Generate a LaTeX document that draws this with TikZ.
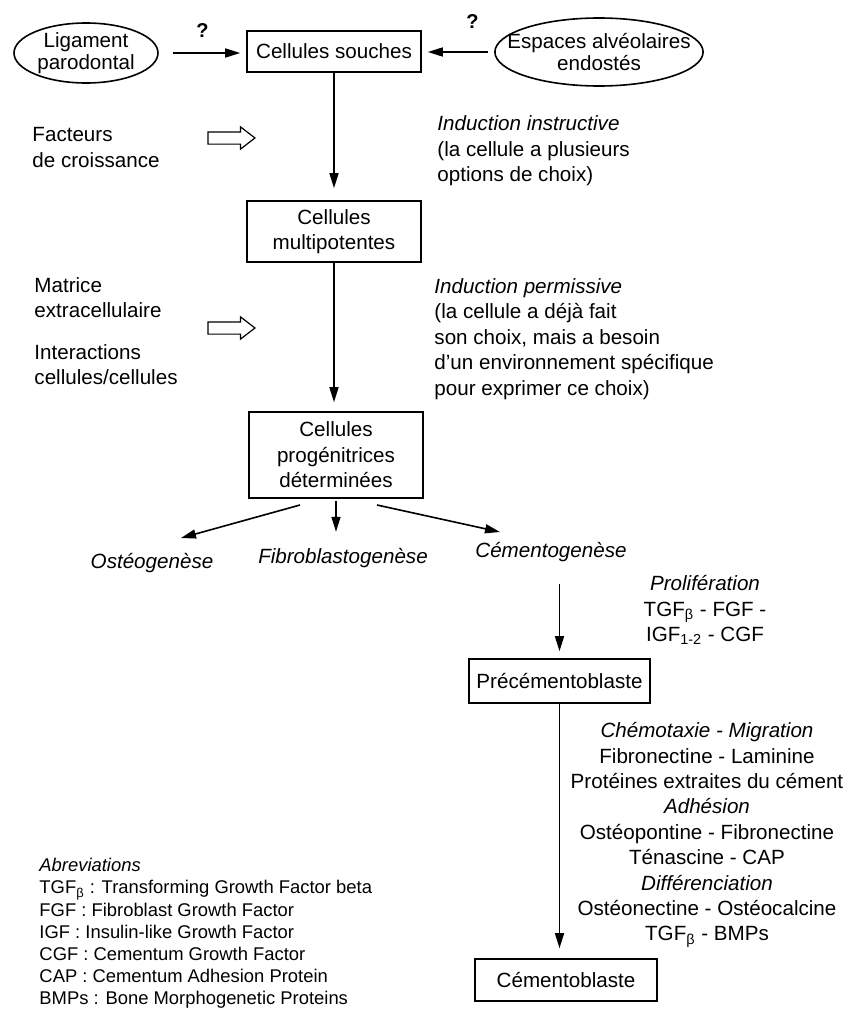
\documentclass[tikz,border=0pt]{standalone}
\usepackage{fontspec}
\setmainfont{Liberation Sans}
\usetikzlibrary{arrows.meta,shapes.geometric,shapes.arrows}

\begin{document}
\begin{tikzpicture}
[
x=0.5pt,y=-0.5pt,
line width=0.8pt,
font=\fontsize{10.3}{12.7}\selectfont,
cellbox/.style={draw,rectangle,align=center,minimum width=87pt,inner sep=0pt},
origin/.style={draw,ellipse,align=center,inner sep=0pt,font=\fontsize{10.3}{11}\selectfont},
flow/.style={-{Triangle[length=7.5pt,width=4.5pt]}},
push/.style={draw,single arrow,line width=0.6pt,minimum height=23.5pt,inner sep=2.75pt,single arrow head extend=2.5pt,single arrow tip angle=75},
remark/.style={anchor=west,align=left},
fate/.style={font=\fontsize{10.3}{12.7}\selectfont\itshape},
factors/.style={align=center},
abbrev/.style={anchor=west,align=left,font=\fontsize{9.2}{11.1}\selectfont}
]
\useasboundingbox (0,0) rectangle (848,1011);

\node[cellbox,minimum height=20.5pt] (souches) at (334,51.5) {Cellules souches};
\node[cellbox,minimum height=30.5pt] (multi) at (334,231.5) {Cellules\\multipotentes};
\node[cellbox,minimum height=43pt] (progen) at (336,455) {Cellules\\progénitrices\\déterminées};
\node[cellbox,minimum width=90.5pt,minimum height=22pt] (precemento) at (559.5,681) {Précémentoblaste};
\node[cellbox,minimum width=91pt,minimum height=21pt] (cemento) at (566,980) {Cémentoblaste};

\node[origin,minimum width=72pt,minimum height=30pt] (ligament) at (86,53) {Ligament\\parodontal};
\node[origin,inner xsep=-9pt,minimum height=34pt] (espaces) at (599,52) {Espaces alvéolaires\\endostés};

\draw[flow,shorten <=7pt,shorten >=3pt] (ligament.east) -- (ligament.east -| souches.west)
  node[midway,above=4pt,font=\bfseries] (ask1) {?};
\draw[flow,shorten <=3pt,shorten >=3pt] (espaces.west) -- (espaces.west -| souches.east)
  node[pos=0.3,above=8pt,font=\bfseries] (ask2) {?};

\node[remark] (growth) at (25,147.5) {Facteurs\\de croissance};
\node[push] (push1) at (227.5,138) {};
\node[remark] (instructive) at (430,151) {\textit{Induction instructive}\\(la cellule a plusieurs\\options de choix)};
\draw[flow,shorten >=6pt] (souches) -- (multi);

\node[remark] (matrix) at (27,297.5) {Matrice\\extracellulaire};
\node[remark] (contacts) at (27,364.5) {Interactions\\cellules/cellules};
\node[push] (push2) at (227.5,328) {};
\node[remark] (permissive) at (427,339) {\textit{Induction permissive}\\(la cellule a déjà fait\\son choix, mais a besoin\\d'un environnement spécifique\\pour exprimer ce choix)};
\draw[flow,shorten >=4.5pt] (multi.south) -- (multi.south |- progen.north);

\node[fate] (osteo) at (152,563) {Ostéogenèse};
\node[fate] (fibro) at (343,558) {Fibroblastogenèse};
\node[fate] (cementog) at (551,552) {Cémentogenèse};
\coordinate (split left) at (300,505);
\coordinate (split right) at (377,505);
\coordinate (osteo tip) at (181,538);
\coordinate (cementog tip) at (500,532);
\draw[flow] (split left) -- (osteo tip);
\draw[flow,shorten <=1pt,shorten >=4.5pt] (progen.south) -- (progen.south |- fibro.north);
\draw[flow] (split right) -- (cementog tip);

\node[factors] (prolif) at (705,610) {\textit{Prolifération}\\TGF\textsubscript{β} - FGF -\\IGF\textsubscript{1-2} - CGF};
\draw[flow,shorten <=7.5pt,shorten >=3.5pt] (precemento.north |- cementog.south) -- (precemento.north);

\node[factors] (signals) at (707,835) {\textit{Chémotaxie - Migration}\\Fibronectine - Laminine\\Protéines extraites du cément\\\textit{Adhésion}\\Ostéopontine - Fibronectine\\Ténascine - CAP\\\textit{Différenciation}\\Ostéonectine - Ostéocalcine\\TGF\textsubscript{β} - BMPs};
\draw[flow,shorten >=5pt] (precemento.south) -- (precemento.south |- cemento.north);

\node[abbrev] (abbrev) at (32,933.5) {\textit{Abreviations}\\TGF\textsubscript{β} : Transforming Growth Factor beta\\FGF : Fibroblast Growth Factor\\IGF : Insulin-like Growth Factor\\CGF : Cementum Growth Factor\\CAP : Cementum Adhesion Protein\\BMPs : Bone Morphogenetic Proteins};
\end{tikzpicture}
\end{document}
